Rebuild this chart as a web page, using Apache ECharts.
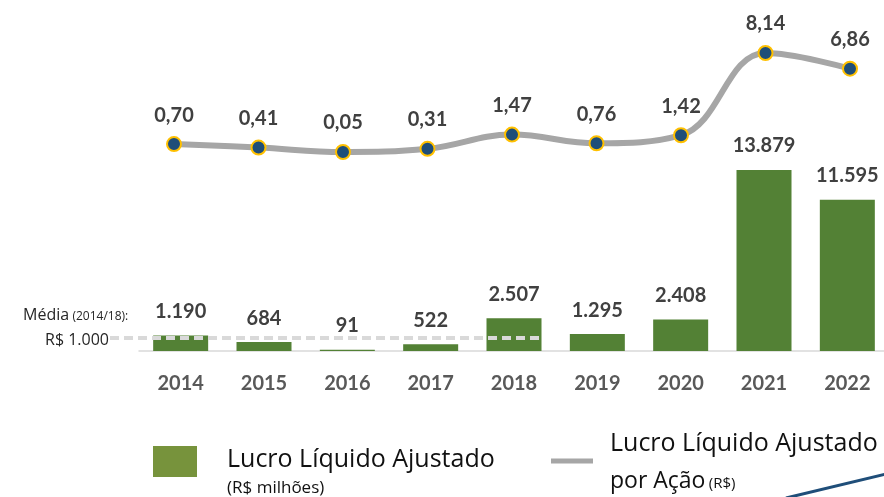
<!DOCTYPE html>
<html>
<head>
<meta charset="utf-8">
<style>
  html, body { margin: 0; padding: 0; background: #ffffff; }
  #chart { width: 884px; height: 497px; }
</style>
<script src="https://cdn.jsdelivr.net/npm/echarts@6/dist/echarts.min.js"></script>
</head>
<body>
<div id="chart"></div>
<script>
// Anos
const years = ['2014', '2015', '2016', '2017', '2018', '2019', '2020', '2021', '2022'];
// Lucro Líquido Ajustado (R$ milhões)
const lucroAjustado = [1190, 684, 91, 522, 2507, 1295, 2408, 13879, 11595];
// Lucro Líquido Ajustado por Ação (R$)
const lucroPorAcao = [0.70, 0.41, 0.05, 0.31, 1.47, 0.76, 1.42, 8.14, 6.86];
// Média 2014/18 (R$ milhões)
const media = 1000;

const FONT = 'Lato, "Open Sans", sans-serif';
const FONT_LEG = '"Open Sans", Lato, sans-serif';
const fmtMil = v => v.toLocaleString('pt-BR');
const fmtDec = v => v.toFixed(2).replace('.', ',');

const chart = echarts.init(document.getElementById('chart'), null, { renderer: 'canvas' });

const option = {
  animation: false,
  backgroundColor: '#ffffff',
  grid: [
    { left: 139, width: 750, top: 0, height: 351, outerBoundsMode: 'none' },
    { left: 131.75, width: 760.5, top: 0, height: 351, outerBoundsMode: 'none' }
  ],
  xAxis: [
    {
      type: 'category', gridIndex: 0, data: years,
      axisLine: { lineStyle: { color: '#d9d9d9', width: 1.5 } },
      axisTick: { show: false },
      axisLabel: { margin: 23, color: '#595959', fontSize: 20, fontWeight: 'bold', fontFamily: FONT }
    },
    { type: 'category', gridIndex: 1, data: years, show: false }
  ],
  yAxis: [
    { type: 'value', gridIndex: 0, min: 0, max: 26900, show: false, splitLine: { show: false } },
    { type: 'value', gridIndex: 1, min: -16.21, max: 12.47, show: false, splitLine: { show: false } }
  ],
  series: [
    {
      name: 'Lucro Líquido Ajustado',
      type: 'bar', xAxisIndex: 0, yAxisIndex: 0,
      data: lucroAjustado,
      barWidth: 55,
      itemStyle: { color: '#538135' },
      label: {
        show: true, position: 'top', distance: 14,
        formatter: p => fmtMil(p.value),
        color: '#404040', fontSize: 20, fontWeight: 'bold', fontFamily: FONT
      }
    },
    {
      name: 'Lucro Líquido Ajustado por Ação',
      type: 'line', xAxisIndex: 1, yAxisIndex: 1,
      data: lucroPorAcao,
      smooth: 0.4,
      symbol: 'circle', symbolSize: 14,
      lineStyle: { color: '#a6a6a6', width: 6 },
      itemStyle: { color: '#1f4e79', borderColor: '#ffc000', borderWidth: 2 },
      label: {
        show: true, position: 'top', distance: 11,
        formatter: p => fmtDec(p.value),
        color: '#404040', fontSize: 20, fontWeight: 'bold', fontFamily: FONT
      },
      z: 5
    }
  ]
};

chart.setOption(option);

// Linha tracejada da média, anotação e legenda
const yMedia = chart.convertToPixel({ yAxisIndex: 0 }, media);
const x2018 = chart.convertToPixel({ xAxisIndex: 0 }, '2018');

chart.setOption({
  graphic: [
    {
      type: 'line', z: 20,
      shape: { x1: 110, y1: yMedia, x2: x2018 + 28, y2: yMedia },
      style: { stroke: '#d9d9d9', lineWidth: 4, lineDash: [9, 5] }
    },
    {
      type: 'text', z: 20, x: 23, y: 315,
      style: {
        text: '{a|Média} {b|(2014/18):}',
        verticalAlign: 'middle',
        rich: {
          a: { fontSize: 16, fill: '#262626', fontFamily: FONT_LEG },
          b: { fontSize: 12, fill: '#262626', fontFamily: FONT_LEG, padding: [3, 0, 0, 0] }
        }
      }
    },
    {
      type: 'text', z: 20, x: 109, y: 340,
      style: {
        text: 'R$ ' + fmtMil(media), align: 'right', verticalAlign: 'middle',
        fontSize: 16, fill: '#262626', fontFamily: FONT_LEG
      }
    },
    // legenda: barras
    {
      type: 'rect', shape: { x: 153, y: 446, width: 44, height: 31 },
      style: { fill: '#77933c' }
    },
    {
      type: 'text', x: 227, y: 460,
      style: { text: 'Lucro Líquido Ajustado', verticalAlign: 'middle', fontSize: 25, fill: '#111111', fontFamily: FONT_LEG }
    },
    {
      type: 'text', x: 227, y: 488,
      style: { text: '(R$ milhões)', verticalAlign: 'middle', fontSize: 17, fill: '#111111', fontFamily: FONT_LEG }
    },
    // legenda: linha
    {
      type: 'line', shape: { x1: 551, y1: 461, x2: 593, y2: 461 },
      style: { stroke: '#a6a6a6', lineWidth: 5 }
    },
    {
      type: 'text', x: 610, y: 444,
      style: { text: 'Lucro Líquido Ajustado', verticalAlign: 'middle', fontSize: 25, fill: '#111111', fontFamily: FONT_LEG }
    },
    {
      type: 'text', x: 610, y: 481,
      style: {
        text: '{a|por Ação} {b|(R$)}', verticalAlign: 'middle',
        rich: {
          a: { fontSize: 23, fill: '#111111', fontFamily: FONT_LEG },
          b: { fontSize: 15, fill: '#111111', fontFamily: FONT_LEG, padding: [5, 0, 0, 0] }
        }
      }
    },
    // traço decorativo azul
    {
      type: 'line', shape: { x1: 786, y1: 498, x2: 886, y2: 474 },
      style: { stroke: '#1f4e79', lineWidth: 3 }
    }
  ]
});
</script>
</body>
</html>
